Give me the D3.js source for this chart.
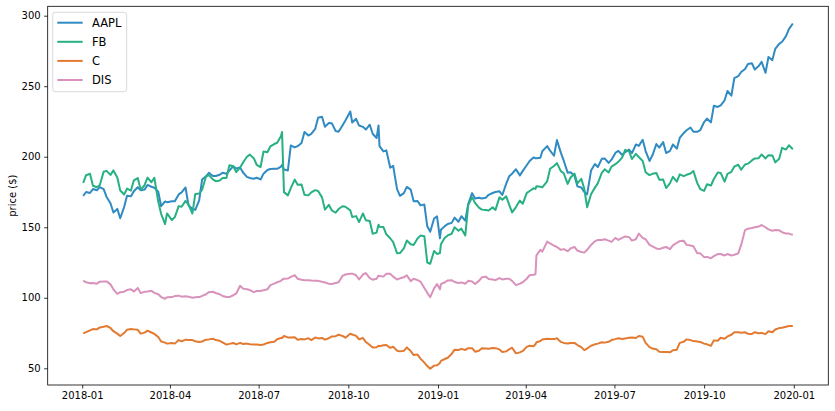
<!DOCTYPE html>
<html>
<head>
<meta charset="utf-8">
<script src="https://cdn.jsdelivr.net/npm/d3@7"></script>
<style>
  html, body { margin: 0; padding: 0; background: #fff; }
  svg { display: block; }
  text { font-family: "DejaVu Sans", sans-serif; fill: #000; }
</style>
</head>
<body>
<svg id="chart" width="835" height="411"></svg>
<script>
// ---------- data ----------
const dates = [
  // 2018
  "2018-01-02","2018-01-05","2018-01-09","2018-01-12","2018-01-16","2018-01-19","2018-01-23","2018-01-26","2018-01-30",
  "2018-02-02","2018-02-06","2018-02-09","2018-02-13","2018-02-16","2018-02-20","2018-02-23","2018-02-27",
  "2018-03-02","2018-03-06","2018-03-09","2018-03-13","2018-03-16","2018-03-20","2018-03-23","2018-03-27","2018-03-29",
  "2018-04-03","2018-04-06","2018-04-10","2018-04-13","2018-04-17","2018-04-20","2018-04-24","2018-04-27",
  "2018-05-01","2018-05-04","2018-05-08","2018-05-11","2018-05-15","2018-05-18","2018-05-22","2018-05-25","2018-05-29",
  "2018-06-01","2018-06-05","2018-06-08","2018-06-12","2018-06-15","2018-06-19","2018-06-22","2018-06-26","2018-06-29",
  "2018-07-03","2018-07-06","2018-07-10","2018-07-13","2018-07-17","2018-07-20","2018-07-24","2018-07-25","2018-07-27","2018-07-31",
  "2018-08-03","2018-08-07","2018-08-10","2018-08-14","2018-08-17","2018-08-21","2018-08-24","2018-08-28","2018-08-31",
  "2018-09-04","2018-09-07","2018-09-11","2018-09-14","2018-09-18","2018-09-21","2018-09-25","2018-09-28",
  "2018-10-03","2018-10-05","2018-10-09","2018-10-12","2018-10-16","2018-10-19","2018-10-23","2018-10-26","2018-10-30",
  "2018-11-01","2018-11-02","2018-11-06","2018-11-09","2018-11-13","2018-11-16","2018-11-20","2018-11-23","2018-11-27","2018-11-30",
  "2018-12-04","2018-12-07","2018-12-11","2018-12-14","2018-12-18","2018-12-21","2018-12-24","2018-12-28","2018-12-31",
  // 2019
  "2019-01-03","2019-01-04","2019-01-08","2019-01-11","2019-01-15","2019-01-18","2019-01-22","2019-01-25","2019-01-29",
  "2019-02-01","2019-02-05","2019-02-08","2019-02-12","2019-02-15","2019-02-19","2019-02-22","2019-02-26",
  "2019-03-01","2019-03-05","2019-03-08","2019-03-12","2019-03-15","2019-03-18","2019-03-22","2019-03-26","2019-03-29",
  "2019-04-02","2019-04-05","2019-04-09","2019-04-11","2019-04-12","2019-04-16","2019-04-18","2019-04-23","2019-04-26","2019-04-30",
  "2019-05-03","2019-05-07","2019-05-10","2019-05-14","2019-05-17","2019-05-21","2019-05-24","2019-05-28","2019-05-31",
  "2019-06-03","2019-06-07","2019-06-11","2019-06-14","2019-06-18","2019-06-21","2019-06-25","2019-06-28",
  "2019-07-02","2019-07-05","2019-07-09","2019-07-12","2019-07-16","2019-07-19","2019-07-23","2019-07-26","2019-07-30",
  "2019-08-02","2019-08-06","2019-08-09","2019-08-13","2019-08-16","2019-08-20","2019-08-23","2019-08-27","2019-08-30",
  "2019-09-03","2019-09-06","2019-09-10","2019-09-13","2019-09-17","2019-09-20","2019-09-24","2019-09-27",
  "2019-10-01","2019-10-04","2019-10-08","2019-10-11","2019-10-15","2019-10-18","2019-10-22","2019-10-25","2019-10-29",
  "2019-11-01","2019-11-05","2019-11-08","2019-11-12","2019-11-15","2019-11-19","2019-11-22","2019-11-26","2019-11-29",
  "2019-12-03","2019-12-06","2019-12-10","2019-12-13","2019-12-17","2019-12-20","2019-12-24","2019-12-27","2019-12-31"
];

const AAPL = [
  172.3,175.0,174.3,177.1,176.2,178.5,177.0,171.5,167.0,
  160.5,163.0,156.4,164.3,172.4,171.9,175.5,178.4,
  176.2,176.7,180.0,178.7,178.0,175.2,164.9,168.3,167.8,
  168.4,168.4,173.3,174.7,178.2,165.7,162.9,162.3,
  169.1,183.8,186.1,188.6,186.4,186.3,187.2,188.6,187.9,
  190.2,193.3,191.7,192.3,188.8,185.7,184.9,184.4,185.1,
  183.9,188.0,190.6,191.3,191.5,191.4,193.0,194.2,191.0,190.3,
  208.0,206.6,207.5,209.8,217.6,215.0,216.2,219.7,227.6,
  228.4,221.3,223.9,223.8,218.2,217.7,222.2,225.7,
  232.1,224.3,226.9,222.1,221.2,219.3,222.7,216.3,213.3,
  222.2,207.5,203.8,204.5,192.2,193.5,177.0,172.3,174.2,178.6,
  176.7,168.5,168.6,165.5,166.1,150.7,146.8,156.2,157.7,
  142.2,148.3,150.8,152.3,153.1,156.8,153.9,157.8,154.7,
  166.5,174.2,170.4,170.9,170.4,170.9,173.0,174.3,
  175.0,175.5,172.9,180.9,186.1,188.0,191.1,186.8,190.0,
  194.0,197.0,199.5,198.9,198.9,199.3,203.9,207.5,204.3,200.7,
  211.8,202.9,197.2,188.7,189.0,186.6,179.0,178.2,175.1,
  173.3,190.2,194.8,192.7,198.5,198.8,195.6,197.9,
  202.7,204.2,201.2,203.3,205.0,202.6,208.7,207.7,212.0,
  204.0,197.0,201.0,209.0,206.5,210.4,202.6,204.2,208.7,
  205.7,213.3,216.7,218.8,220.7,217.7,217.7,218.8,
  224.6,227.0,224.4,236.2,235.3,236.4,240.0,246.6,243.3,
  255.8,257.1,260.1,262.2,265.8,266.3,261.8,264.3,267.3,
  259.5,270.7,268.5,276.5,280.0,281.5,285.5,290.5,294.5
];

const FB = [
  181.4,186.9,187.9,179.4,178.4,179.8,189.4,190.0,187.1,
  190.3,185.3,176.1,173.2,177.4,176.0,183.3,184.9,
  176.6,179.8,185.2,181.9,185.1,168.2,159.4,152.2,159.8,
  155.1,157.2,165.0,164.5,168.7,166.3,159.7,173.6,
  173.9,176.6,186.0,187.0,183.9,182.7,183.1,184.9,185.0,
  194.0,193.3,189.1,192.3,195.9,200.0,201.5,199.0,194.3,
  192.7,203.7,203.2,207.3,209.0,209.9,214.7,217.5,174.9,172.6,
  177.8,183.8,180.2,180.3,173.0,172.6,174.7,176.3,175.7,
  171.2,162.5,165.9,162.0,160.3,162.9,164.9,164.5,
  162.0,157.3,157.9,153.7,159.8,154.9,154.4,145.4,146.2,
  151.8,150.4,150.1,145.0,142.2,139.5,131.6,131.7,135.0,140.6,
  137.9,137.4,142.0,144.1,143.7,125.0,124.1,133.2,131.1,
  131.7,138.0,142.5,144.2,145.4,150.0,147.6,149.0,144.2,
  165.7,171.2,167.3,163.9,162.5,162.3,161.9,164.1,
  162.3,171.2,169.6,171.9,166.0,160.5,164.3,168.9,166.7,
  174.2,175.7,177.6,177.2,179.1,178.7,178.3,182.6,191.5,193.4,
  195.5,189.8,188.3,180.7,185.3,188.0,181.1,184.3,177.5,
  164.2,173.4,178.1,181.3,188.5,191.1,188.8,193.0,
  194.7,196.4,199.6,204.9,203.8,198.4,202.0,199.8,197.0,
  189.0,187.0,187.9,188.5,183.7,183.8,177.8,181.3,185.7,
  182.4,187.5,186.2,187.2,188.1,189.9,181.3,177.1,
  175.8,180.5,179.6,184.2,188.9,188.5,182.3,187.9,189.3,
  193.0,194.3,190.8,194.5,195.1,197.4,198.8,199.0,201.6,
  198.8,201.1,200.9,196.0,198.5,206.3,205.1,208.1,205.3
];

const C = [
  74.8,75.7,76.9,77.8,77.6,79.0,79.5,80.0,78.6,
  76.3,74.6,72.9,75.0,77.4,77.8,77.6,77.3,
  74.6,75.3,76.7,75.4,74.4,72.2,69.0,68.2,67.5,
  68.0,67.5,70.0,69.1,70.3,70.0,70.0,69.2,
  68.6,69.0,70.3,70.5,71.0,70.0,69.5,68.4,66.8,
  67.3,68.0,67.0,68.0,67.2,67.5,67.0,66.8,66.9,
  66.5,66.9,68.0,68.5,68.8,70.6,71.6,71.5,72.9,71.9,
  71.9,72.0,70.3,70.7,70.5,71.3,70.0,71.8,71.2,
  71.5,70.3,71.3,72.6,72.8,73.8,73.0,71.7,
  74.5,74.0,73.0,70.6,71.5,68.6,66.5,64.8,64.9,
  66.0,65.7,66.3,66.5,64.5,65.3,62.5,62.0,62.4,64.8,
  62.2,59.4,59.7,56.9,54.0,51.6,49.7,51.9,52.1,
  53.8,55.3,56.6,57.5,60.2,63.2,63.0,63.8,63.0,
  64.3,64.3,61.8,62.4,64.2,64.0,63.8,64.4,
  64.3,63.4,61.6,62.0,63.5,64.6,60.6,61.3,62.3,
  65.2,66.0,65.6,67.0,68.5,69.3,70.5,71.0,70.8,70.7,
  71.3,68.7,68.0,67.6,68.0,68.0,66.5,65.0,62.9,
  64.0,66.0,67.0,67.5,68.5,68.2,68.8,70.0,
  70.7,71.3,70.8,71.2,71.6,71.8,71.5,72.9,72.3,
  68.0,65.0,64.0,63.5,61.8,61.6,61.5,61.3,62.8,
  63.2,68.0,68.8,70.5,70.0,69.3,69.0,68.7,
  67.5,67.0,66.0,69.8,69.5,71.7,71.0,72.6,73.8,
  75.6,75.6,75.2,75.5,74.5,74.3,75.6,74.9,75.1,
  74.2,76.3,75.5,77.5,78.5,78.8,79.5,80.0,80.0
];

const DIS = [
  112.1,111.0,110.3,110.5,110.0,111.4,111.5,111.6,109.5,
  106.0,102.8,104.0,104.3,105.5,106.0,104.5,107.0,
  103.3,104.3,104.5,105.0,103.5,102.5,100.5,99.3,100.4,
  100.5,101.2,101.5,100.8,101.0,100.8,100.0,100.3,
  100.5,101.3,102.5,104.0,104.3,103.4,102.5,101.3,100.5,
  100.5,101.8,103.0,108.5,106.5,106.0,105.5,104.0,104.8,
  104.8,105.4,106.0,109.0,110.0,111.0,112.0,112.8,113.5,113.6,
  114.8,116.0,113.5,112.8,112.5,112.5,112.2,112.0,112.0,
  111.3,110.9,110.0,109.8,110.5,111.0,115.5,116.5,
  117.0,117.1,116.0,113.0,116.5,117.5,114.0,112.8,113.5,
  115.7,115.4,115.0,117.0,117.0,115.0,113.0,113.8,114.5,116.0,
  111.8,113.5,112.5,111.5,107.0,103.5,100.4,106.7,109.7,
  106.0,109.7,111.0,112.3,112.5,111.2,110.5,110.9,110.0,
  112.0,111.5,109.8,112.0,114.5,115.0,113.3,113.0,
  112.5,114.0,113.0,113.5,113.5,112.0,109.0,110.0,111.0,
  113.5,116.0,116.3,116.7,130.1,134.0,132.7,139.8,138.5,137.0,
  136.0,134.0,134.5,133.0,135.0,136.0,133.5,132.5,132.0,
  134.0,137.5,140.0,141.0,141.0,141.5,140.5,139.6,
  142.5,141.0,142.5,143.5,143.0,140.5,141.5,145.5,142.5,
  141.5,137.5,136.5,135.0,134.5,135.5,136.0,134.5,137.2,
  139.0,140.2,140.5,137.5,137.0,136.5,131.5,131.5,
  128.8,129.0,128.0,129.5,131.0,131.0,130.0,131.0,130.0,
  130.5,131.5,137.5,148.0,149.0,149.5,150.0,150.5,151.6,
  150.0,148.5,147.5,148.0,147.8,146.5,145.5,145.5,144.6
];

const seriesNames = ["AAPL", "FB", "C", "DIS"];
const seriesValues = [AAPL, FB, C, DIS];
const seriesColors = ["#2f8bc2", "#27b083", "#e27a31", "#d892bb"];
const yTicks = [50, 100, 150, 200, 250, 300];
const xTickLabels = ["2018-01","2018-04","2018-07","2018-10","2019-01","2019-04","2019-07","2019-10","2020-01"];
const yLabel = "price ($)";

// ---------- layout ----------
const plot = { left: 47.7, right: 828.3, top: 6.3, bottom: 385 };

const parse = d3.utcParse("%Y-%m-%d");
const parseMonth = d3.utcParse("%Y-%m");
const dateObjs = dates.map(parse);
const first = dateObjs[0], last = dateObjs[dateObjs.length - 1];
const pad = (last - first) * 0.05;

const x = d3.scaleUtc()
  .domain([new Date(+first - pad), new Date(+last + pad)])
  .range([plot.left, plot.right]);

const y = d3.scaleLinear()
  .domain([38.16, 306.66])
  .range([plot.bottom, plot.top]);

const svg = d3.select("#chart");

svg.append("defs").append("clipPath").attr("id", "clip")
  .append("rect")
  .attr("x", plot.left).attr("y", plot.top)
  .attr("width", plot.right - plot.left).attr("height", plot.bottom - plot.top);

// sanity check on array lengths
seriesValues.forEach((v, k) => {
  if (v.length !== dates.length) {
    svg.append("text").attr("x", 300).attr("y", 30 + k * 14).attr("font-size", 12).attr("fill", "red")
      .text(`${seriesNames[k]} length ${v.length} vs ${dates.length}`);
  }
});

const line = d3.line()
  .defined((d, i) => i < dateObjs.length)
  .x((d, i) => x(dateObjs[i]))
  .y(d => y(d));

const gLines = svg.append("g").attr("clip-path", "url(#clip)");
seriesValues.forEach((vals, k) => {
  gLines.append("path")
    .datum(vals)
    .attr("fill", "none")
    .attr("stroke", seriesColors[k])
    .attr("stroke-width", 2)
    .attr("stroke-linejoin", "round")
    .attr("d", line);
});

// axes
const xAxis = d3.axisBottom(x)
  .tickValues(xTickLabels.map(parseMonth))
  .tickFormat(d3.utcFormat("%Y-%m"))
  .tickSize(3.5).tickPadding(3.5);

const yAxis = d3.axisLeft(y)
  .tickValues(yTicks)
  .tickFormat(d3.format("d"))
  .tickSize(3.5).tickPadding(3.5);

const gx = svg.append("g").attr("transform", `translate(0,${plot.bottom})`).call(xAxis);
const gy = svg.append("g").attr("transform", `translate(${plot.left},0)`).call(yAxis);

[gx, gy].forEach(g => {
  g.select(".domain").remove();
  g.selectAll(".tick line").attr("stroke", "#000").attr("stroke-width", 0.8);
  g.selectAll(".tick text").attr("font-size", 10).attr("font-family", "DejaVu Sans, sans-serif").attr("fill", "#000");
});

// spines
svg.append("rect")
  .attr("x", plot.left).attr("y", plot.top)
  .attr("width", plot.right - plot.left).attr("height", plot.bottom - plot.top)
  .attr("fill", "none").attr("stroke", "#000").attr("stroke-width", 0.8);

// y label
svg.append("text")
  .attr("transform", `translate(13,${(plot.top + plot.bottom) / 2}) rotate(-90)`)
  .attr("text-anchor", "middle")
  .attr("dominant-baseline", "middle")
  .attr("font-size", 10)
  .text(yLabel);

// legend
const lg = svg.append("g");
lg.append("rect")
  .attr("x", 52.7).attr("y", 12.3)
  .attr("width", 74).attr("height", 79.4)
  .attr("rx", 2.5).attr("ry", 2.5)
  .attr("fill", "#fff").attr("fill-opacity", 0.8)
  .attr("stroke", "#d0d0d0").attr("stroke-width", 0.8);

seriesNames.forEach((name, k) => {
  const yy = 22.7 + k * 19.1;
  lg.append("line")
    .attr("x1", 57.3).attr("x2", 82.7)
    .attr("y1", yy).attr("y2", yy)
    .attr("stroke", seriesColors[k]).attr("stroke-width", 2);
  lg.append("text")
    .attr("x", 92).attr("y", yy)
    .attr("dominant-baseline", "central")
    .attr("font-size", 11.5)
    .text(name);
});
</script>
</body>
</html>
